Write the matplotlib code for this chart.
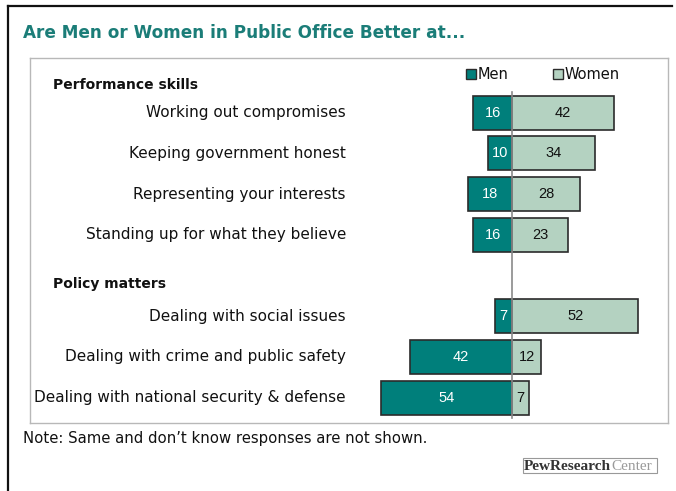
import matplotlib
matplotlib.use("Agg")
import matplotlib.pyplot as plt
from matplotlib.patches import Rectangle
from matplotlib.lines import Line2D

# Survey results (percent)
perf_items = ["Working out compromises", "Keeping government honest",
              "Representing your interests", "Standing up for what they believe"]
perf_men = [16, 10, 18, 16]
perf_women = [42, 34, 28, 23]

policy_items = ["Dealing with social issues", "Dealing with crime and public safety",
                "Dealing with national security & defense"]
policy_men = [7, 42, 54]
policy_women = [52, 12, 7]

section_titles = ["Performance skills", "Policy matters"]
title = "Are Men or Women in Public Office Better at..."
note = "Note: Same and don\u2019t know responses are not shown."

MEN_C = "#007f7b"
WOMEN_C = "#b4d2c1"
EDGE_C = "#2b2b2b"
TITLE_C = "#1b7d78"

W, H = 676, 491
fig = plt.figure(figsize=(W / 100, H / 100), dpi=100)
fig.patch.set_facecolor("white")


def px_rect(x0, y0, x1, y1):
    """Figure-fraction rect from pixel box (top-left origin)."""
    return [x0 / W, 1 - y1 / H, (x1 - x0) / W, (y1 - y0) / H]


# Outer frame (left and top rules)
fig.add_artist(Line2D([8 / W, 8 / W], [0, 1 - 6 / H], color="#111111", lw=1.6,
                      transform=fig.transFigure))
fig.add_artist(Line2D([8 / W, 672 / W], [1 - 6 / H, 1 - 6 / H], color="#111111", lw=1.6,
                      transform=fig.transFigure))

fig.text(23 / W, 1 - 33 / H, title, color=TITLE_C, fontsize=12.2, fontweight="bold",
         va="center", ha="left", family="DejaVu Sans")

# Main panel in data units: x = percent, y = row index
box = (30, 58, 668, 423)
ax = fig.add_axes(px_rect(*box))
zero_px, scale = 512, 2.43
row0, step = 112.7, 40.7
ax.set_xlim((box[0] - zero_px) / scale, (box[2] - zero_px) / scale)
ax.set_ylim((box[3] - row0) / step, (box[1] - row0) / step)
for s in ax.spines.values():
    s.set_color("#b8b8b8")
    s.set_linewidth(1.0)
ax.set_xticks([])
ax.set_yticks([])

rows_perf = list(range(4))
rows_pol = [5, 6, 7]
label_x = (346 - zero_px) / scale
bh = 0.84

for items, men, women, rows in [(perf_items, perf_men, perf_women, rows_perf),
                                (policy_items, policy_men, policy_women, rows_pol)]:
    ax.barh(rows, [-m for m in men], height=bh, color=MEN_C, edgecolor=EDGE_C, lw=1.2)
    ax.barh(rows, women, height=bh, color=WOMEN_C, edgecolor=EDGE_C, lw=1.2)
    for r, name, m, w in zip(rows, items, men, women):
        ax.text(label_x, r, name, ha="right", va="center", fontsize=11,
                family="DejaVu Sans", color="#111111")
        ax.text(-m / 2, r, str(m), ha="center", va="center", fontsize=10.5,
                family="Liberation Sans", color="white")
        ax.text(w / 2, r, str(w), ha="center", va="center", fontsize=10.5,
                family="Liberation Sans", color="#111111")

sec_x = (53 - zero_px) / scale
ax.text(sec_x, (85 - row0) / step, section_titles[0], ha="left", va="center",
        fontsize=10, fontweight="bold", family="DejaVu Sans", color="#111111")
ax.text(sec_x, (284 - row0) / step, section_titles[1], ha="left", va="center",
        fontsize=10, fontweight="bold", family="DejaVu Sans", color="#111111")

# Zero line
ax.plot([0, 0], [(92 - row0) / step, (418 - row0) / step], color="#8a8a8a", lw=1.2,
        zorder=5)

# Legend
leg_y = (74 - row0) / step
for x_px, col, lab in [(466, MEN_C, "Men"), (553, WOMEN_C, "Women")]:
    x0 = (x_px - zero_px) / scale
    ax.add_patch(Rectangle((x0, leg_y - 0.13), 10 / scale, 0.26, facecolor=col,
                           edgecolor=EDGE_C, lw=1.0, clip_on=False))
    ax.text(x0 + 12 / scale, leg_y, lab, ha="left", va="center", fontsize=10.5,
            family="DejaVu Sans", color="#111111")

fig.text(23 / W, 1 - 438 / H, note, ha="left", va="center", fontsize=10.7,
         family="DejaVu Sans", color="#111111")

# Logo
fig.add_artist(Rectangle((523 / W, 1 - 473 / H), 134 / W, 15 / H, transform=fig.transFigure,
                         facecolor="white", edgecolor="#999999", lw=0.8))
t1 = fig.text(524 / W, 1 - 466 / H, "PewResearch", ha="left", va="center", fontsize=11,
              fontweight="bold", family="Liberation Serif", color="#333333")
fig.canvas.draw()
bb = t1.get_window_extent()
fig.text(bb.x1 / W, 1 - 466 / H, "Center", ha="left", va="center", fontsize=11,
         family="Liberation Serif", color="#9a9a9a")

fig.savefig("out.png", dpi=100)
